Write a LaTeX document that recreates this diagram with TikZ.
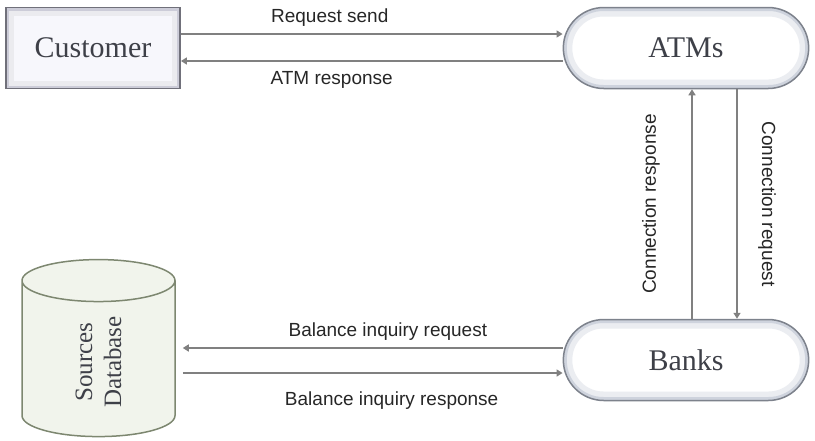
\documentclass[tikz,border=0pt]{standalone}
\usepackage{fontspec}
\setmainfont{Liberation Serif}
\newfontfamily\labelfont{Liberation Sans}
\usepackage{tikz}
\usetikzlibrary{positioning,arrows.meta,shapes.misc,shapes.geometric}

\definecolor{arrowgray}{RGB}{128,128,128}
\definecolor{boxline}{RGB}{112,112,122}
\definecolor{boxfill}{RGB}{247,247,252}
\definecolor{boxshade}{RGB}{204,204,216}
\definecolor{pillline}{RGB}{125,130,140}
\definecolor{pillshade}{RGB}{206,211,221}
\definecolor{dbline}{RGB}{125,135,112}
\definecolor{dbfill}{RGB}{241,244,236}
\definecolor{textgray}{RGB}{62,64,72}

\begin{document}
\begin{tikzpicture}[node distance=593pt, on grid,
    flow/.style={draw=arrowgray, line width=1.5pt, -{Triangle[length=6pt,width=7pt]}},
    msg/.style={font=\labelfont\fontsize{19}{22}\selectfont, text=black!85},
    actor/.style={rectangle, draw=boxline, line width=1.8pt, fill=boxfill,
        minimum width=174pt, minimum height=81pt, text=textgray,
        font=\fontsize{30}{36}\selectfont,
        path picture={
            \draw[boxshade!40, line width=16pt] (path picture bounding box.south west) rectangle (path picture bounding box.north east);
            \draw[boxshade, line width=6pt] (path picture bounding box.south west) rectangle (path picture bounding box.north east);
        }},
    terminal/.style={rounded rectangle, draw=pillline, line width=1.5pt, fill=white,
        minimum width=252pt, minimum height=81pt, text=textgray,
        font=\fontsize{30}{36}\selectfont,
        path picture={
            \draw[pillshade!40, line width=18pt, rounded corners=40pt] (path picture bounding box.south west) rectangle (path picture bounding box.north east);
            \draw[pillshade, line width=7pt, rounded corners=40pt] (path picture bounding box.south west) rectangle (path picture bounding box.north east);
        }},
    store/.style={cylinder, rotate=90, draw=dbline, line width=1.5pt, fill=dbfill,
        minimum width=153pt, minimum height=177pt, aspect=0.8, align=center,
        text=textgray, font=\fontsize{25}{29}\selectfont}]

    \useasboundingbox (0,0) rectangle (815pt,-440pt);

    \node[actor] (cust) at (93pt,-48pt) {Customer};
    \node[terminal] (atms) [right=of cust] {ATMs};
    \node[terminal] (banks) [below=312pt of atms] {Banks};
    \node[store] (db) at (98.5pt,-362pt) {Sources\\Database};

    \path[every edge/.style={flow}]
        ([yshift=14pt]cust.east) edge node[msg, pos=.39, yshift=16pt] {Request send} ([yshift=14pt]cust.east -| atms.west)
        ([yshift=-13pt]atms.west) edge node[msg, pos=.605, yshift=-19pt] {ATM response} ([yshift=-13pt]atms.west -| cust.east)
        ([xshift=6pt]banks.north) edge node[msg, midway, xshift=-41pt, rotate=90] {Connection response} ([xshift=6pt]banks.north |- atms.south)
        ([xshift=51pt]atms.south) edge node[msg, midway, xshift=30pt, rotate=-90] {Connection request} ([xshift=51pt]atms.south |- banks.north)
        ([yshift=12pt]banks.west) edge node[msg, pos=.46, yshift=16pt] {Balance inquiry request} ([xshift=7pt, yshift=12pt]banks.west -| db.south)
        ([xshift=7pt, yshift=-13pt]banks.west -| db.south) edge node[msg, pos=.55, yshift=-28pt] {Balance inquiry response} ([yshift=-13pt]banks.west);

\end{tikzpicture}
\end{document}
